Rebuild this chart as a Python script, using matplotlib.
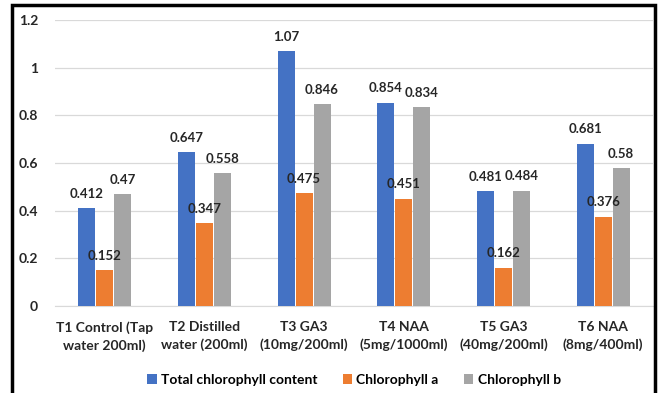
import numpy as np
import matplotlib.pyplot as plt
from matplotlib.patches import Rectangle

categories = ["T1 Control (Tap\nwater 200ml)", "T2 Distilled\nwater (200ml)", "T3 GA3\n(10mg/200ml)",
              "T4 NAA\n(5mg/1000ml)", "T5 GA3\n(40mg/200ml)", "T6 NAA\n(8mg/400ml)"]
total_chl = [0.412, 0.647, 1.07, 0.854, 0.481, 0.681]
chl_a = [0.152, 0.347, 0.475, 0.451, 0.162, 0.376]
chl_b = [0.47, 0.558, 0.846, 0.834, 0.484, 0.58]
series_names = ["Total chlorophyll content", "Chlorophyll a", "Chlorophyll b"]
colors = ["#4472C4", "#ED7D31", "#A5A5A5"]
yticks = [0, 0.2, 0.4, 0.6, 0.8, 1, 1.2]
ytick_labels = ["0", "0.2", "0.4", "0.6", "0.8", "1", "1.2"]

plt.rcParams['font.family'] = ['Lato', 'DejaVu Sans']

fig = plt.figure(figsize=(6.61, 3.93), dpi=100, facecolor="white")
ax = fig.add_axes([0.083, 0.221, 0.905, 0.728])

x = np.arange(len(categories))
w = 0.17
gap = 0.18
for i, (vals, name, c) in enumerate(zip([total_chl, chl_a, chl_b], series_names, colors)):
    pos = x + (i - 1) * gap
    ax.bar(pos, vals, width=w, color=c, label=name, zorder=3)
    for xp, v in zip(pos, vals):
        ax.text(xp, v + 0.035, f"{v:g}", ha="center", va="bottom",
                fontsize=9.5, fontweight="bold", color="#262626", zorder=4)

ax.set_xlim(-0.5, len(categories) - 0.5)
ax.set_ylim(0, 1.2)
ax.set_yticks(yticks)
ax.set_yticklabels(ytick_labels, fontsize=10, fontweight="bold", color="#262626")
ax.set_xticks(x)
ax.set_xticklabels(categories, fontsize=10, fontweight="bold", color="#262626", linespacing=1.45)
ax.tick_params(length=0, pad=12, axis="y")
ax.tick_params(length=0, pad=11, axis="x")
ax.yaxis.grid(True, color="#D9D9D9", lw=0.9, zorder=0)
for s in ["top", "right", "left"]:
    ax.spines[s].set_visible(False)
ax.spines["bottom"].set_color("#D9D9D9")

ax.legend(loc="center", bbox_to_anchor=(0.5, -0.258), ncol=3, frameon=False,
          prop={"size": 10, "weight": "bold"}, handlelength=0.7, handleheight=0.7,
          handletextpad=0.3, columnspacing=1.8)

# outer black frame, open at the bottom edge of the image
fig.patches.append(Rectangle((12 / 661, -0.05), (655 - 12) / 661, (1 - 5 / 393) + 0.05,
                             transform=fig.transFigure, fill=False, edgecolor="black",
                             lw=2.5, clip_on=False))

plt.savefig("out.png", dpi=100, facecolor="white")
